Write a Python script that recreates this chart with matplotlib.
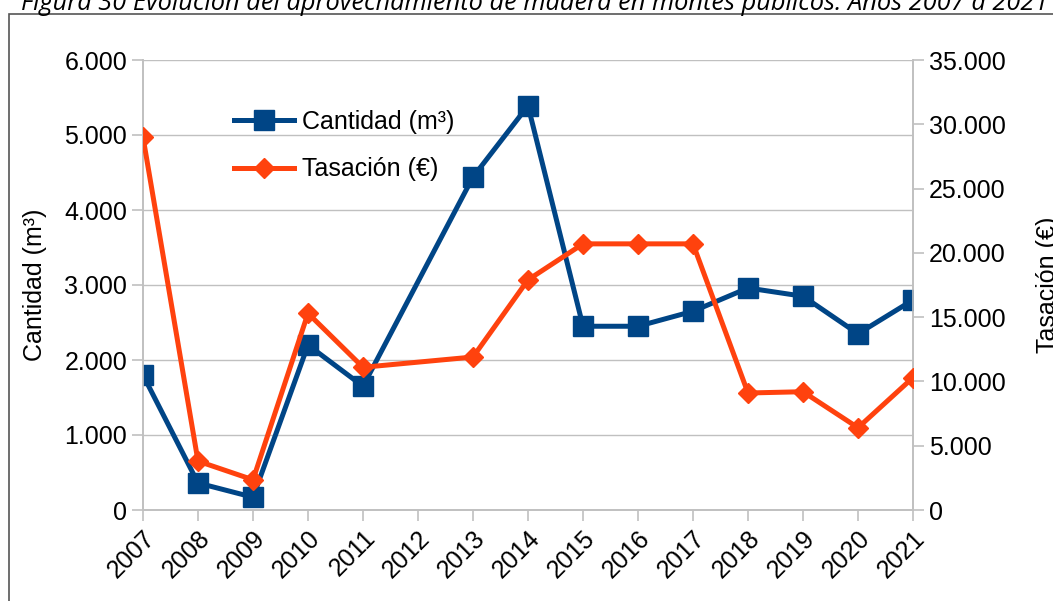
import numpy as np
import matplotlib
matplotlib.use('Agg')
import matplotlib.pyplot as plt
from matplotlib.patches import Rectangle
from matplotlib.ticker import FuncFormatter, MultipleLocator

# ---------------- DATA ----------------
years = ["2007", "2008", "2009", "2010", "2011", "2012", "2013", "2014",
         "2015", "2016", "2017", "2018", "2019", "2020", "2021"]
cantidad = [1800, 360, 170, 2200, 1650, np.nan, 4440, 5390,
            2450, 2450, 2650, 2960, 2850, 2350, 2800]
tasacion = [29000, 3800, 2350, 15300, 11100, np.nan, 11900, 17900,
            20700, 20700, 20700, 9100, 9200, 6400, 10300]

title = "Figura 30 Evolución del aprovechamiento de madera en montes públicos. Años 2007 a 2021"

BLUE = "#004586"
ORANGE = "#ff420e"
GRID = "#c0c0c0"
FS = 18

plt.rcParams['font.family'] = ['Liberation Sans', 'DejaVu Sans']


def miles(v, pos):
    return f"{int(round(v)):,}".replace(",", ".")


fig = plt.figure(figsize=(10.53, 6.01), dpi=100)
ax = fig.add_axes([143 / 1053, 1 - 510 / 601, 770 / 1053, 450 / 601])
ax2 = ax.twinx()

x = np.arange(len(years))
c = np.array(cantidad, dtype=float)
t = np.array(tasacion, dtype=float)
mc = ~np.isnan(c)
mt = ~np.isnan(t)

# 2012 has no data: the line just continues across it
ax.plot(x[mc], c[mc], color=BLUE, lw=3.6, marker="s", ms=14, label="Cantidad (m³)", zorder=3)
ax2.plot(x[mt], t[mt], color=ORANGE, lw=3.6, marker="D", ms=10, label="Tasación (€)", zorder=3)

ax.set_xlim(0, len(years) - 1)
ax.set_ylim(0, 6000)
ax2.set_ylim(0, 35000)
ax.yaxis.set_major_locator(MultipleLocator(1000))
ax2.yaxis.set_major_locator(MultipleLocator(5000))
ax.yaxis.set_major_formatter(FuncFormatter(miles))
ax2.yaxis.set_major_formatter(FuncFormatter(miles))

ax.set_xticks(x)
ax.set_xticklabels(years, rotation=45, ha="right", rotation_mode="anchor")
ax.grid(axis="y", color=GRID, lw=1)
ax.set_axisbelow(True)

for a in (ax, ax2):
    a.spines["top"].set_visible(False)
    for s in ("left", "right", "bottom"):
        a.spines[s].set_color(GRID)
        a.spines[s].set_linewidth(1.2)
    a.tick_params(colors=GRID, labelcolor="black", labelsize=FS, length=8, width=1.2)

ax.set_ylabel("Cantidad (m³)", fontsize=FS, labelpad=12)
ax2.set_ylabel("Tasación (€)", fontsize=FS, labelpad=22)

h1, l1 = ax.get_legend_handles_labels()
h2, l2 = ax2.get_legend_handles_labels()
ax2.legend(h1 + h2, l1 + l2, loc="upper left", bbox_to_anchor=(0.089, 0.94),
           frameon=False, fontsize=FS, handlelength=2.4, handletextpad=0.3,
           labelspacing=0.95)

# frame and caption (cut by the top edge, as in the source)
fig.patches.append(Rectangle((9 / 1053, -0.05), 1.1, 1 - 14 / 601 + 0.05,
                             transform=fig.transFigure, fill=False,
                             edgecolor="#555555", lw=1.2))
fig.text(0.508, 1 - 4 / 601, title, ha="center", va="center", fontsize=18.3,
         style="italic", family=["Open Sans", "DejaVu Sans"])

fig.savefig("out.png", dpi=100)
